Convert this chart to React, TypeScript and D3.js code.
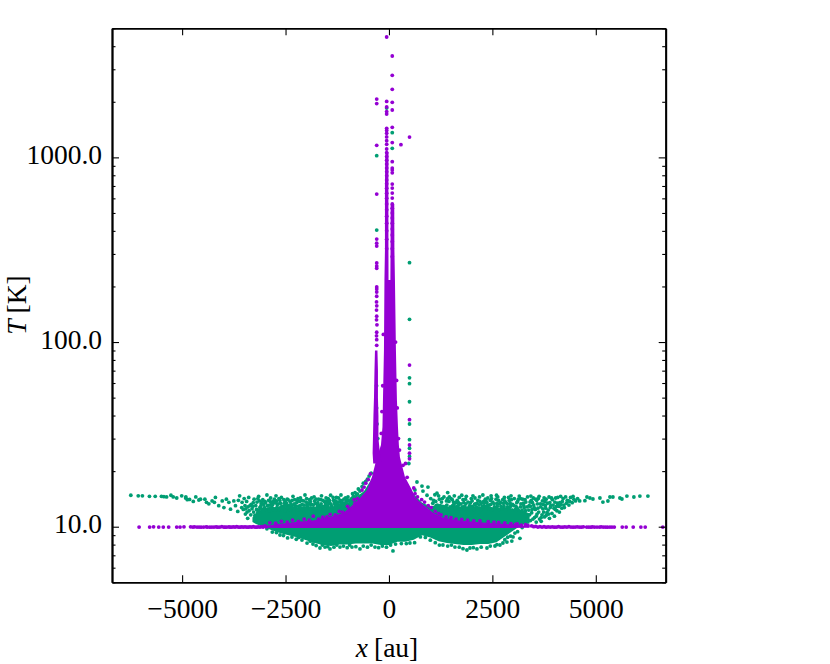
import React, { useEffect, useRef } from 'react';
import * as d3 from 'd3';

type Pt = [number, number];

const GREEN = '#009E73';
const PURPLE = '#9400D3';

const xTicks = [-5000, -2500, 0, 2500, 5000];
const yTicks = [10, 100, 1000];
const yMinorTicks = [5, 6, 7, 8, 9, 20, 30, 40, 50, 60, 70, 80, 90, 200, 300, 400, 500, 600, 700, 800, 900, 2000, 3000, 4000, 5000];

// solid part of the green cloud: x, top and bottom of the band
const greenBandX = [-3300, -3200, -3000, -2800, -2600, -2400, -2200, -2000, -1800, -1600, -1400, -1200, -1000, -800, -600, -400, -200, 0, 200, 400, 600, 800, 1000, 1200, 1400, 1600, 1800, 2000, 2200, 2400, 2600, 2800, 3000, 3200, 3400];
const greenBandTop = [11.2, 12.0, 12.6, 12.8, 12.6, 12.9, 12.7, 12.9, 12.7, 13.0, 12.8, 13.1, 13.4, 14.4, 15.6, 18.4, 20, 20, 20, 17.6, 15.0, 13.5, 12.9, 13.1, 12.8, 13.0, 12.7, 13.0, 12.8, 12.9, 12.6, 12.8, 12.5, 12.3, 11.8];
const greenBandBottom = [10.6, 10.3, 9.9, 9.5, 9.2, 8.95, 8.75, 8.45, 8.15, 7.95, 7.85, 8.0, 8.0, 8.1, 8.1, 8.1, 7.95, 7.95, 8.3, 8.3, 8.5, 9.0, 8.75, 8.35, 8.15, 8.05, 7.95, 7.95, 8.05, 8.05, 8.25, 8.85, 9.5, 10.2, 10.4];

const greenTail: Pt[] = [
  [-6240, 14.8], [-6060, 14.7], [-5960, 14.7], [-5790, 14.6], [-5650, 14.6], [-5500, 14.6], [-5440, 14.55], [-5375, 14.5], [-5270, 14.8], [-5215, 14.5],
  [-5130, 14.3], [-5010, 14.7], [-4915, 14.3], [-4875, 14.0], [-4820, 14.05], [-4910, 14.5], [-4730, 13.7], [-4670, 14.5], [-4595, 13.95], [-4555, 14.1],
  [-4450, 14.1], [-4410, 13.55], [-4355, 13.3], [-4275, 13.8], [-4195, 14.4], [-4220, 13.55], [-4115, 13], [-4030, 13.8], [-3990, 12.7], [-3930, 14.1],
  [-3870, 13.55], [-3830, 12.45], [-3750, 13.8], [-3710, 13], [-3610, 14.7], [-3655, 12.1], [-3550, 13.55], [-3415, 11.1], [-3470, 11.7], [-3390, 14.4],
  [4737, 13.83], [4786, 14.48], [4858, 14.3], [4931, 14.13], [5100, 14.3], [5172, 13.6], [5293, 13.78], [5342, 14.48], [5414, 14.48], [5583, 14.3],
  [5632, 14.13], [5752, 14.66], [5921, 14.48], [6066, 14.66], [6260, 14.66],
];

const greenLeftCloud: Pt[] = [
  [-3640, 13.9], [-3500, 14.2], [-3480, 13.0], [-3440, 13.7], [-3330, 13.2], [-3290, 12.9], [-3260, 14.1], [-3220, 13.0], [-3190, 13.6], [-3150, 14.6], [-3120, 12.7],
  [-3090, 13.3], [-3050, 14.0], [-3010, 12.7], [-2980, 13.5], [-2950, 14.85], [-2920, 12.5], [-2890, 13.1], [-2860, 14.3], [-2830, 12.8], [-2790, 13.7],
  [-2760, 12.45], [-2730, 14.7], [-2700, 13.2], [-2670, 12.6], [-2640, 13.9], [-2600, 14.4], [-2570, 12.9], [-2530, 13.4], [-2490, 12.5], [-2460, 14.1],
  [-2430, 13.0], [-2390, 13.7], [-2360, 12.7], [-2320, 14.6], [-2290, 13.3], [-2250, 12.4], [-2210, 13.9], [-2180, 12.9], [-2140, 14.3], [-2100, 13.2],
  [-2070, 12.6], [-2030, 14.85], [-2000, 13.6], [-1960, 12.8], [-1920, 14.0], [-1890, 13.1], [-1850, 12.5], [-1810, 14.5], [-1780, 13.4], [-1740, 12.7],
  [-1700, 14.1], [-1670, 13.0], [-1630, 14.7], [-1590, 12.6], [-1560, 13.7], [-1520, 14.3], [-1480, 12.9], [-1450, 13.4], [-1410, 14.8], [-1380, 12.5],
  [-1340, 13.9], [-1300, 13.1], [-1270, 14.4], [-1230, 12.8], [-1200, 13.6], [-1160, 14.85], [-1130, 13.2], [-1090, 14.1], [-1060, 12.9], [-1030, 13.7],
  [-990, 14.5], [-950, 13.3], [-920, 14.0], [-880, 15.1], [-860, 14.6], [-820, 15.3], [-780, 15.0], [-740, 16.0], [-700, 15.6], [-650, 16.5],
  [-620, 17.2], [-560, 17.6], [-520, 18.1], [-480, 18.8], [-430, 19.5],
  [-3100, 12.9], [-2940, 13.0], [-2810, 13.2], [-2680, 13.3], [-2550, 12.7], [-2410, 12.9], [-2270, 13.0], [-2120, 12.6], [-1980, 13.0], [-1830, 13.1],
  [-1690, 12.8], [-1540, 13.0], [-1400, 13.2], [-1250, 13.2], [-1110, 13.4], [-970, 13.8], [-3000, 13.7], [-2720, 13.8], [-2480, 13.4], [-2230, 13.5],
  [-1940, 13.4], [-1720, 13.5], [-1490, 13.7], [-1320, 13.5], [-1170, 13.9],
  // lower, denser layer
  [-3380, 12.2], [-3340, 11.6], [-3310, 12.5], [-3270, 12.0], [-3240, 11.5], [-3200, 12.4], [-3170, 12.0], [-3140, 12.3], [-3070, 12.4], [-3040, 12.1],
  [-2970, 12.3], [-2900, 12.2], [-2860, 12.6], [-2800, 12.4], [-2740, 12.3], [-2710, 12.7], [-2650, 12.3], [-2610, 12.8], [-2580, 12.4], [-2520, 12.2],
  [-2500, 13.0], [-2450, 12.6], [-2400, 12.3], [-2340, 13.0], [-2300, 12.5], [-2240, 12.9], [-2190, 12.4], [-2150, 13.0], [-2090, 12.4], [-2050, 13.1],
  [-2010, 12.5], [-1970, 13.3], [-1900, 12.5], [-1870, 13.2], [-1820, 12.6], [-1760, 12.4], [-1730, 13.1], [-1680, 12.4], [-1640, 13.3], [-1600, 12.9],
  [-1550, 12.5], [-1510, 13.1], [-1470, 12.5], [-1430, 13.5], [-1390, 12.9], [-1350, 12.6], [-1310, 13.3], [-1280, 12.9], [-1240, 13.6], [-1190, 13.0],
  [-1150, 13.5], [-1100, 12.9], [-1070, 13.4], [-1020, 13.3], [-980, 13.1], [-930, 13.6], [-900, 14.2], [-840, 14.0], [-800, 14.5], [-760, 15.0],
  [-3560, 12.7], [-3520, 12.4], [-3460, 12.5], [-3430, 12.0], [-3410, 12.8], [-3360, 13.0], [-3130, 13.8], [-3030, 13.2], [-2870, 13.7], [-2770, 14.1],
  [-2620, 13.4], [-2440, 14.0], [-2340, 13.9], [-2200, 14.2], [-2060, 13.8], [-1870, 14.3], [-1800, 13.8], [-1650, 14.0], [-1470, 14.2], [-1350, 14.4],
  // upper layer
  [-3280, 13.5], [-3170, 14.2], [-3070, 13.6], [-2910, 13.9], [-2840, 13.5], [-2750, 13.5], [-2660, 14.2], [-2540, 14.0], [-2510, 13.7], [-2370, 13.3],
  [-2280, 14.0], [-2160, 13.7], [-2110, 13.9], [-1990, 14.2], [-1900, 13.7], [-1760, 14.1], [-1600, 13.9], [-1530, 13.4], [-1440, 13.9], [-1290, 13.8],
  [-1220, 14.3], [-1140, 13.8], [-1050, 14.3], [-1010, 14.0],
];

const greenRightCloud: Pt[] = [
  [677, 17.46], [798, 16.6], [628, 15.8], [943, 16.4], [1160, 15.2], [822, 15.6], [920, 14.8], [1010, 14.2], [1060, 13.4], [1110, 14.9],
  [1170, 13.1], [1220, 14.1], [1270, 13.6], [1330, 14.5], [1370, 12.9], [1420, 15.3], [1450, 13.7], [1500, 14.2], [1540, 13.0], [1580, 14.7],
  [1620, 13.5], [1670, 12.8], [1700, 14.4], [1740, 13.3], [1790, 14.0], [1830, 12.9], [1870, 14.6], [1910, 13.6], [1950, 13.0], [1990, 14.2],
  [2030, 14.7], [2070, 13.2], [2110, 12.8], [2150, 13.9], [2190, 14.5], [2230, 13.4], [2270, 14.85], [2310, 12.9], [2350, 13.7], [2390, 14.3],
  [2430, 13.1], [2470, 14.7], [2510, 13.6], [2550, 12.8], [2590, 14.1], [2630, 14.5], [2670, 13.3], [2710, 12.9], [2750, 14.0], [2790, 14.4],
  [2830, 13.5], [2870, 12.8], [2910, 13.9], [2950, 14.7], [2990, 13.2], [3030, 14.2], [3070, 12.9], [3110, 13.7], [3150, 14.66], [3190, 13.3],
  [3230, 14.1], [3270, 12.7], [3310, 13.6], [3350, 14.5], [3390, 13.0], [3430, 14.66], [3470, 13.5], [3510, 12.7], [3550, 14.1], [3590, 13.3],
  [3630, 14.6], [3670, 12.8], [3710, 13.8], [3750, 14.3], [3790, 12.6], [3830, 13.4], [3870, 14.48], [3910, 13.0], [3950, 14.0], [3990, 12.6],
  [4030, 14.3], [4070, 13.4], [4110, 12.9], [4150, 14.6], [4190, 13.7], [4230, 13.1], [4270, 14.5], [4310, 13.9], [4350, 13.1], [4390, 14.4],
  [4430, 13.5], [4470, 14.1], [4510, 13.8], [4560, 14.2], [4610, 13.8],
  [1080, 13.9], [1240, 13.0], [1390, 13.8], [1530, 14.0], [1650, 13.9], [1810, 13.5], [1970, 13.5], [2130, 13.4], [2290, 13.7], [2450, 13.9],
  [2610, 13.4], [2770, 13.4], [2930, 13.4], [3090, 13.5], [3250, 13.4], [3410, 13.6], [3570, 13.9], [3730, 13.2], [3890, 13.5], [4050, 12.9],
  [3450, 11.9], [3520, 11.2], [3580, 11.7], [3640, 11.0], [3700, 11.6], [3760, 11.3], [3820, 11.9], [3880, 11.1], [3940, 11.8], [4000, 11.4],
  [4060, 12.2], [4120, 12.0], [4180, 12.6], [4240, 12.7],
  // lower, denser layer
  [1030, 12.7], [1100, 12.4], [1140, 13.0], [1190, 12.5], [1250, 12.3], [1300, 12.9], [1350, 12.4], [1400, 13.1], [1440, 12.4], [1480, 12.8],
  [1520, 12.5], [1570, 13.2], [1610, 12.6], [1640, 12.9], [1690, 13.2], [1720, 12.5], [1770, 12.8], [1820, 12.4], [1860, 13.3], [1900, 12.6],
  [1940, 12.4], [2000, 12.9], [2050, 12.4], [2090, 13.3], [2140, 12.6], [2180, 13.1], [2220, 12.4], [2260, 12.9], [2300, 13.4], [2340, 12.5],
  [2380, 13.0], [2420, 12.5], [2460, 13.2], [2500, 12.4], [2540, 13.3], [2580, 12.6], [2620, 12.9], [2660, 12.4], [2700, 13.5], [2740, 12.5],
  [2780, 12.9], [2820, 12.3], [2860, 13.3], [2900, 12.6], [2940, 12.9], [2980, 12.3], [3020, 13.0], [3060, 12.4], [3100, 12.6], [3140, 12.2],
  [3180, 12.8], [3220, 12.3], [3260, 13.0], [3300, 12.2], [3340, 12.8], [3380, 12.3], [3420, 12.9], [3460, 12.4], [3500, 13.1], [3540, 12.4],
  [3600, 12.6], [3660, 13.3], [3720, 12.5], [3780, 13.0], [3850, 12.3], [3900, 12.7], [3970, 13.1], [4020, 12.4], [4090, 13.0], [4160, 13.2],
  [3340, 11.2], [3400, 11.6], [3480, 11.0], [3560, 11.4], [3620, 12.0], [3680, 11.2], [3740, 12.0], [3800, 11.5], [3860, 11.7], [3420, 10.8],
  [3300, 11.5], [3220, 11.7], [3560, 10.6], [3680, 10.7], [1200, 14.7], [1460, 14.5], [1760, 14.8], [2080, 14.3], [2330, 14.1], [2600, 14.8],
  [2890, 14.4], [3180, 14.2], [3490, 14.3], [3800, 14.1], [4080, 14.4], [4340, 13.8], [4450, 14.6],
  // upper layer
  [1130, 13.7], [1290, 14.2], [1420, 14.2], [1560, 13.6], [1680, 13.5], [1850, 14.1], [2010, 13.8], [2200, 13.7], [2370, 13.5], [2480, 14.2],
  [2650, 13.9], [2800, 13.8], [2960, 14.0], [3130, 14.1], [3290, 14.0], [3440, 13.9], [3610, 14.2], [3770, 13.7], [3930, 14.3], [4010, 13.6],
  [4130, 13.5], [4210, 14.2], [4290, 13.4], [4370, 13.7],
];

const greenLowerEdge: Pt[] = [
  [-2634, 9.02], [-2345, 8.79], [-2103, 8.47], [-1837, 8.06], [-1668, 7.67], [-1547, 7.76], [-1426, 7.58], [-1184, 7.76], [-894, 7.76], [-701, 7.58],
  [-338, 7.76], [97, 7.39], [507, 8.16], [1305, 7.96], [1595, 7.76], [1885, 7.48], [1958, 7.67], [2127, 7.58], [2369, 7.67], [2562, 7.86],
  [2755, 8.16], [2852, 8.26], [2682, 7.96], [2870, 8.77], [2970, 8.36], [3166, 8.65], [3045, 9.24],
  [-2950, 9.75], [-2820, 9.35], [-2720, 9.3], [-2550, 8.95], [-2450, 8.7], [-2240, 8.55], [-2180, 8.75], [-1980, 8.15], [-1900, 8.35], [-1760, 7.9],
  [-1610, 7.95], [-1480, 7.8], [-1330, 7.75], [-1260, 7.95], [-1100, 7.85], [-1010, 7.7], [-950, 7.95], [-800, 7.8], [-620, 7.85], [-520, 7.75],
  [-430, 7.95], [-250, 7.7], [-160, 7.85], [-60, 7.75], [40, 7.95], [160, 8.05], [300, 8.1], [420, 8.1], [620, 8.2], [760, 8.8],
  [880, 8.75], [1000, 8.45], [1120, 8.2], [1220, 7.95], [1420, 7.85], [1510, 7.95], [1700, 7.75], [1790, 7.6], [2040, 7.7], [2230, 7.75],
  [2450, 7.85], [2610, 8.0], [2800, 8.5], [2940, 8.9], [3000, 8.8], [3110, 9.4], [3220, 9.9],
];

// isolated green points around the spike
const greenSpikePoints: Pt[] = [
  [-55, 1850], [80, 1361], [80, 1120], [-296, 1021], [-296, 404], [497, 269], [497, 132.8], [497, 64], [497, 59.5], [497, 47.5],
  [497, 36], [497, 29.6], [497, 26.6], [497, 24], [480, 22], [-300, 58], [-300, 44], [-290, 36], [-270, 30], [-60, 24],
];

const purpleBandX = [-3000, -2600, -2200, -1800, -1400, -1100, -900, -700, -532, 556, 628, 700, 860, 1070, 1300, 1700, 2270, 2850, 3400];
const purpleBandTop = [10.1, 10.4, 10.65, 10.85, 11.35, 11.9, 13.0, 14.3, 15.8, 15.8, 14.48, 13.9, 13.0, 11.9, 11.2, 10.8, 10.55, 10.35, 10.1];
const purpleBandBottom = [9.86, 9.84, 9.84, 9.84, 9.84, 9.84, 9.84, 9.84, 9.84, 9.84, 9.84, 9.84, 9.84, 9.84, 9.84, 9.84, 9.84, 9.84, 9.86];

// the spike: T, left and right edge of each column
const spikeT = [1069, 708, 315, 217];
const spikeLeft = [-85, -97, -97, -109];
const spikeRight = [-12, -14, -12, -10];
const rightColT = [560, 315, 217];
const rightColLeft = [41, 38, 34];
const rightColRight = [128, 132, 145];
const stemT = [217, 90, 48.5, 34.7, 27.7, 23.8, 18.6, 15.8];
const stemLeft = [-109, -121, -145, -157, -193, -290, -411, -532];
const stemRight = [145, 169, 193, 218, 240, 266, 387, 556];
const sideColT = [90, 70, 50, 40, 30, 25, 22];
const sideColLeft = [-338, -350, -362, -375, -387, -395, -380];
const sideColRight = [-278, -266, -266, -254, -254, -218, -169];

const purpleTailLeft: Pt[] = [
  [-6040, 9.96], [-5785, 9.96], [-5690, 9.98], [-5565, 9.96], [-5455, 9.96], [-5325, 9.96], [-5130, 9.96], [-5050, 9.96], [-4955, 9.98], [-4795, 9.98],
  [-4740, 9.96], [-4700, 9.98], [-4640, 9.96], [-4590, 9.96], [-4540, 9.94], [-4480, 9.96], [-4420, 9.98], [-4390, 9.96], [-4330, 9.94], [-4280, 9.96],
  [-4230, 9.96], [-4180, 9.98], [-4140, 9.94], [-4090, 9.96], [-4040, 10.0], [-3990, 9.96], [-3960, 9.94], [-3920, 9.96], [-3870, 9.98], [-3840, 9.94],
  [-3800, 9.96], [-3760, 9.98], [-3720, 9.96], [-3680, 10.02], [-3640, 9.96], [-3600, 9.94], [-3560, 9.98], [-3520, 9.96], [-3480, 9.98], [-3440, 9.96],
  [-3400, 9.94], [-3360, 9.98], [-3320, 9.96], [-3280, 10.0], [-3240, 9.96], [-3200, 9.94], [-3160, 9.98], [-3120, 9.96], [-3080, 10.0], [-3040, 9.96],
];

const purpleTailRight: Pt[] = [
  [3450, 10.1], [3500, 10.0], [3550, 10.05], [3600, 9.96], [3650, 10.02], [3700, 9.96], [3750, 10.0], [3800, 9.94], [3850, 9.98], [3900, 9.96],
  [3950, 9.98], [4000, 9.94], [4050, 9.96], [4100, 10.0], [4150, 9.96], [4200, 9.94], [4250, 9.98], [4300, 9.96], [4350, 10.0], [4400, 9.96],
  [4450, 9.94], [4500, 9.96], [4550, 9.98], [4600, 9.96], [4650, 9.94], [4700, 9.98], [4780, 9.96], [4830, 9.96], [4880, 9.94], [4920, 9.98],
  [4970, 9.96], [5030, 9.96], [5090, 9.96], [5130, 9.98], [5180, 9.96], [5230, 9.96], [5280, 9.94], [5340, 9.96], [5390, 9.96], [5447, 9.96],
  [5640, 9.96], [5735, 9.96], [5905, 9.96], [6090, 9.96], [6195, 9.96], [6620, 9.95],
];

const purpleEdge: Pt[] = [
  [-2880, 10.5], [-2740, 10.45], [-2600, 10.7], [-2460, 10.6], [-2330, 10.85], [-2190, 10.7], [-2050, 11.0], [-1930, 10.85], [-1830, 11.4], [-1700, 11.0], [-1600, 11.25], [-1500, 11.3],
  [-1420, 11.65], [-1300, 11.6], [-1200, 12.1], [-1120, 12.0], [-1000, 12.9], [-960, 12.4], [-840, 14.0], [-820, 13.4], [-760, 14.2], [-650, 15.8], [-600, 16.4], [-560, 17.2], [-500, 18.0], [-450, 19.3],
  [600, 16.2], [630, 15.1], [690, 14.5], [790, 14.0], [860, 13.6], [950, 13.0], [1020, 12.7], [1120, 12.1], [1200, 11.8], [1260, 11.6], [1380, 11.3],
  [1500, 11.2], [1620, 11.0], [1760, 10.95], [1900, 10.85], [2050, 10.75], [2200, 10.75], [2400, 10.65], [2540, 10.6], [2650, 10.55], [2800, 10.5], [2950, 10.4], [3100, 10.35], [3300, 10.25],
  [-170, 42], [-185, 32], [230, 30], [200, 44], [255, 26], [-150, 58], [185, 62], [160, 100], [-135, 110], [120, 40],
  [-3000, 10.1], [-2960, 9.98], [3060, 10.3], [3200, 10.2], [3360, 10.15],
];

// stacked dots that make up the two narrow columns near the top of the spike
const purpleColumnDots: Pt[] = [
  [-55, 1110], [-55, 1060], [-55, 1010], [-55, 965], [-55, 920], [-55, 875], [-55, 835], [-55, 795], [-55, 755], [-55, 720],
  [-55, 680], [-55, 640], [-55, 600], [-55, 560], [-55, 520], [-55, 480], [-55, 440], [-55, 400], [-55, 360], [-55, 320],
  [80, 560], [80, 530], [80, 500], [80, 470], [80, 440], [80, 410], [80, 380], [80, 350], [80, 320], [80, 290],
];

// isolated purple points around the spike, and the dotted side column
const purpleSpikePoints: Pt[] = [
  [-55, 4487], [80, 3540], [80, 2782], [80, 2337], [-296, 2070], [-296, 1955], [-55, 2010], [80, 1986], [80, 1805], [-55, 1874],
  [-55, 1770], [-55, 1718], [-55, 1436], [-55, 1400], [-55, 1350], [80, 1455], [-55, 1290], [-55, 1230], [-55, 1176], [497, 1288],
  [290, 1171], [80, 1203], [-296, 1162], [80, 948], [80, 875], [80, 855], [80, 825], [80, 717], [80, 682], [80, 641],
  [80, 602], [-296, 633], [-296, 361], [-296, 343], [-296, 331], [-296, 268], [-296, 258], [-296, 251], [-296, 198.6], [-296, 193.6],
  [-296, 186.6], [-296, 177], [-300, 165], [-295, 157], [-300, 149], [-296, 138], [-300, 132], [-290, 124], [-296, 113], [-300, 108],
  [-296, 103], [-296, 96], [497, 75], [497, 38], [497, 27.7], [497, 25], [497, 23.3], [400, 22], [340, 21.5], [440, 18.5],
];

export default function App() {
  const svgRef = useRef<SVGSVGElement>(null);

  useEffect(() => {
    const svg = d3.select(svgRef.current);
    svg.selectAll('*').remove();

    const left = 112;
    const right = 665.7;
    const top = 28.3;
    const bottom = 582.3;

    const x = d3.scaleLinear().domain([-6695, 6690]).range([left, right]);
    const y = d3.scaleLog().domain([5, 5000]).range([bottom, top]);

    svg.append('defs').append('clipPath').attr('id', 'plot')
      .append('rect')
      .attr('x', left).attr('y', top)
      .attr('width', right - left).attr('height', bottom - top);

    const plot = svg.append('g').attr('clip-path', 'url(#plot)');

    const bandPath = (xs: number[], tops: number[], bottoms: number[]) =>
      d3.area<number>()
        .x(d => x(d))
        .y0((_, i) => y(bottoms[i]))
        .y1((_, i) => y(tops[i]))(xs);

    const stemPath = (ts: number[], lefts: number[], rights: number[]) =>
      d3.area<number>()
        .y(d => y(d))
        .x0((_, i) => x(lefts[i]))
        .x1((_, i) => x(rights[i]))(ts);

    const dots = (pts: Pt[], color: string) =>
      plot.append('g').attr('fill', color)
        .selectAll('circle')
        .data(pts)
        .enter().append('circle')
        .attr('cx', d => x(d[0]))
        .attr('cy', d => y(d[1]))
        .attr('r', 1.9);

    plot.append('path').attr('d', bandPath(greenBandX, greenBandTop, greenBandBottom)).attr('fill', GREEN);
    [greenTail, greenLeftCloud, greenRightCloud, greenLowerEdge, greenSpikePoints].forEach(p => dots(p, GREEN));

    plot.append('path').attr('d', bandPath(purpleBandX, purpleBandTop, purpleBandBottom)).attr('fill', PURPLE);
    plot.append('path').attr('d', stemPath(spikeT, spikeLeft, spikeRight)).attr('fill', PURPLE);
    plot.append('path').attr('d', stemPath(rightColT, rightColLeft, rightColRight)).attr('fill', PURPLE);
    plot.append('path').attr('d', stemPath(stemT, stemLeft, stemRight)).attr('fill', PURPLE);
    plot.append('path').attr('d', stemPath(sideColT, sideColLeft, sideColRight)).attr('fill', PURPLE);
    [purpleTailLeft, purpleTailRight, purpleEdge, purpleColumnDots, purpleSpikePoints].forEach(p => dots(p, PURPLE));

    const fontFamily = '"Liberation Serif", serif';
    const tickLen = 7;
    const minorLen = 3.5;

    const xAxis = d3.axisBottom(x).tickValues(xTicks).tickFormat(d3.format('d') as any)
      .tickSizeInner(-tickLen).tickSizeOuter(0).tickPadding(16);
    const yAxis = d3.axisLeft(y).tickValues(yTicks).tickFormat(d3.format('.1f') as any)
      .tickSizeInner(-tickLen).tickSizeOuter(0).tickPadding(10);
    const xTop = d3.axisTop(x).tickValues(xTicks).tickFormat(() => '').tickSizeInner(-tickLen).tickSizeOuter(0);
    const yRight = d3.axisRight(y).tickValues(yTicks).tickFormat(() => '').tickSizeInner(-tickLen).tickSizeOuter(0);
    const yMinorL = d3.axisLeft(y).tickValues(yMinorTicks).tickFormat(() => '').tickSizeInner(-minorLen).tickSizeOuter(0);
    const yMinorR = d3.axisRight(y).tickValues(yMinorTicks).tickFormat(() => '').tickSizeInner(-minorLen).tickSizeOuter(0);

    const gx = svg.append('g').attr('transform', `translate(0,${bottom})`).call(xAxis);
    const gy = svg.append('g').attr('transform', `translate(${left},0)`).call(yAxis);
    const gxt = svg.append('g').attr('transform', `translate(0,${top})`).call(xTop);
    const gyr = svg.append('g').attr('transform', `translate(${right},0)`).call(yRight);
    const gm1 = svg.append('g').attr('transform', `translate(${left},0)`).call(yMinorL);
    const gm2 = svg.append('g').attr('transform', `translate(${right},0)`).call(yMinorR);

    [gx, gy, gxt, gyr, gm1, gm2].forEach(g => {
      g.select('.domain').attr('stroke', '#000').attr('stroke-width', 1.8);
      g.selectAll('.tick line').attr('stroke', '#000').attr('stroke-width', 1.1);
      g.selectAll('text').attr('font-family', fontFamily).attr('font-size', 27.5).attr('fill', '#000');
    });
    gy.selectAll('text').attr('dy', '0.22em');

    const xLabel = svg.append('text')
      .attr('x', 387).attr('y', 657)
      .attr('text-anchor', 'middle')
      .attr('font-family', fontFamily).attr('font-size', 27.5);
    xLabel.append('tspan').attr('font-style', 'italic').text('x');
    xLabel.append('tspan').attr('dx', 6).text('[au]');

    const yLabel = svg.append('text')
      .attr('transform', 'translate(26,305) rotate(-90)')
      .attr('text-anchor', 'middle')
      .attr('font-family', fontFamily).attr('font-size', 27.5);
    yLabel.append('tspan').attr('font-style', 'italic').text('T');
    yLabel.append('tspan').attr('dx', 6).text('[K]');
  }, []);

  return (
    <svg
      ref={svgRef}
      width={830}
      height={664}
      viewBox="0 0 830 664"
      style={{ position: 'absolute', left: 0, top: 0, background: '#fff' }}
    />
  );
}
